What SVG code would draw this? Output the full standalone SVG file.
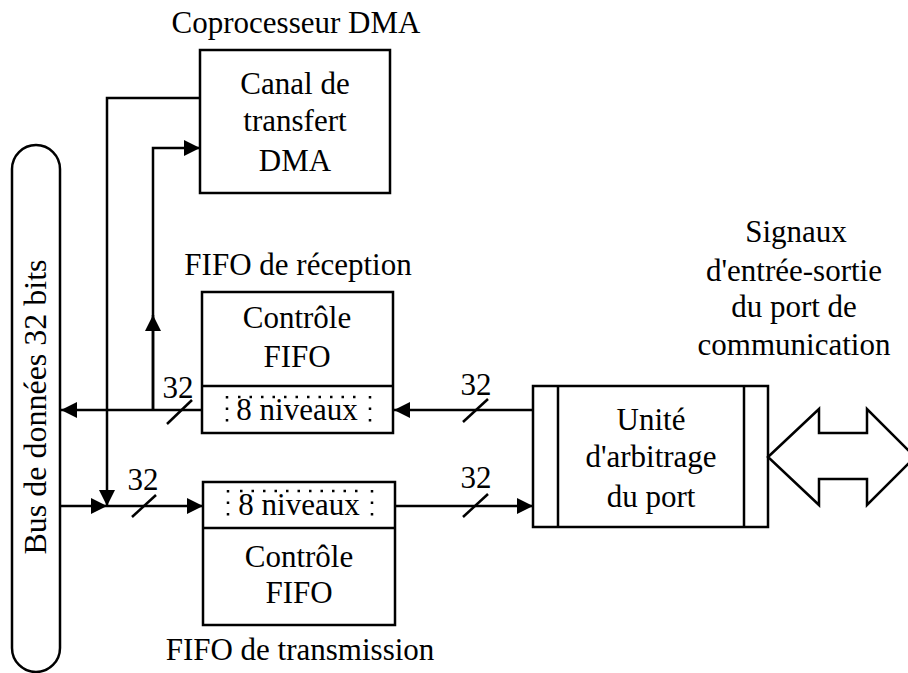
<svg xmlns="http://www.w3.org/2000/svg" width="908" height="673" viewBox="0 0 908 673">
<style>
  .t{font-family:"Liberation Serif","Times New Roman",serif;font-size:31px;fill:#000;text-anchor:middle}
  .box{fill:#fff;stroke:#000;stroke-width:2.5}
  .ln{fill:none;stroke:#000;stroke-width:2.5}
  .dot{fill:none;stroke:#000;stroke-width:2.5;stroke-dasharray:2.5 9;stroke-linecap:butt}
</style>
<defs>
  <marker id="ah" markerWidth="16" markerHeight="16" viewBox="0 0 16 16" refX="16" refY="8" orient="auto" markerUnits="userSpaceOnUse">
    <path d="M0,0 L16,8 L0,16 Z" fill="#000"/>
  </marker>
</defs>
<rect width="908" height="673" fill="#fff"/>

<g id="bus">
  <rect class="box" x="12" y="145" width="48" height="527" rx="24" ry="24"/>
  <text class="t" style="font-size:32px" transform="translate(46,407) rotate(-90)">Bus de données 32 bits</text>
</g>

<g id="dma">
  <text class="t" x="296" y="33">Coprocesseur DMA</text>
  <rect class="box" x="200" y="50" width="190" height="143"/>
  <text class="t" x="295" y="94">Canal de</text>
  <text class="t" x="295" y="131">transfert</text>
  <text class="t" x="295" y="171">DMA</text>
</g>

<g id="fifo-rx">
  <text class="t" x="298" y="275">FIFO de réception</text>
  <rect class="box" x="202" y="292" width="191" height="141"/>
  <line class="ln" x1="202" y1="386" x2="393" y2="386"/>
  <text class="t" x="297" y="328">Contrôle</text>
  <text class="t" x="297" y="367">FIFO</text>
  <text class="t" x="297" y="420">8 niveaux</text>
  <line class="dot" x1="227" y1="396" x2="227" y2="428"/>
  <line class="dot" x1="370" y1="396" x2="370" y2="428"/>
  <line class="dot" x1="238" y1="397" x2="362" y2="397"/>
</g>

<g id="fifo-tx">
  <rect class="box" x="203" y="482" width="192" height="143"/>
  <line class="ln" x1="203" y1="528" x2="395" y2="528"/>
  <text class="t" x="299" y="515">8 niveaux</text>
  <line class="dot" x1="228" y1="490" x2="228" y2="522"/>
  <line class="dot" x1="372" y1="490" x2="372" y2="522"/>
  <line class="dot" x1="240" y1="491" x2="364" y2="491"/>
  <text class="t" x="299" y="567">Contrôle</text>
  <text class="t" x="299" y="603">FIFO</text>
  <text class="t" x="300" y="660">FIFO de transmission</text>
</g>

<g id="unit">
  <rect class="box" x="533" y="386" width="235" height="141"/>
  <line class="ln" x1="558" y1="386" x2="558" y2="527"/>
  <line class="ln" x1="744" y1="386" x2="744" y2="527"/>
  <text class="t" x="651" y="430">Unité</text>
  <text class="t" x="651" y="467">d'arbitrage</text>
  <text class="t" x="651" y="507">du port</text>
</g>

<g id="signals">
  <text class="t" x="796" y="242">Signaux</text>
  <text class="t" x="794" y="281">d'entrée-sortie</text>
  <text class="t" x="794" y="317">du port de</text>
  <text class="t" x="794" y="355">communication</text>
  <path class="ln" d="M768,457 L819,409 L819,433 L867,433 L867,409 L915,457 L867,505 L867,479 L819,479 L819,505 Z" fill="#fff"/>
</g>

<g id="connectors">
  <!-- DMA to transmit junction -->
  <polyline class="ln" points="200,98 107,98 107,506" marker-end="url(#ah)"/>
  <!-- receive tap up to DMA -->
  <polyline class="ln" points="153,410 153,148 200,148" marker-end="url(#ah)"/>
  <line class="ln" x1="153" y1="410" x2="153" y2="315" marker-end="url(#ah)"/>
  <!-- receive path -->
  <line class="ln" x1="202" y1="410" x2="61" y2="410" marker-end="url(#ah)"/>
  <line class="ln" x1="533" y1="410" x2="394" y2="410" marker-end="url(#ah)"/>
  <!-- transmit path -->
  <line class="ln" x1="60" y1="506" x2="107" y2="506" marker-end="url(#ah)"/>
  <line class="ln" x1="107" y1="506" x2="203" y2="506" marker-end="url(#ah)"/>
  <line class="ln" x1="395" y1="506" x2="533" y2="506" marker-end="url(#ah)"/>
  <!-- bus width slashes -->
  <line class="ln" x1="167" y1="424" x2="192" y2="400"/>
  <text class="t" x="178" y="398">32</text>
  <line class="ln" x1="463" y1="422" x2="488" y2="399"/>
  <text class="t" x="476" y="395">32</text>
  <line class="ln" x1="132" y1="517" x2="156" y2="495"/>
  <text class="t" x="143" y="490">32</text>
  <line class="ln" x1="463" y1="517" x2="488" y2="494"/>
  <text class="t" x="476" y="488">32</text>
</g>
</svg>
